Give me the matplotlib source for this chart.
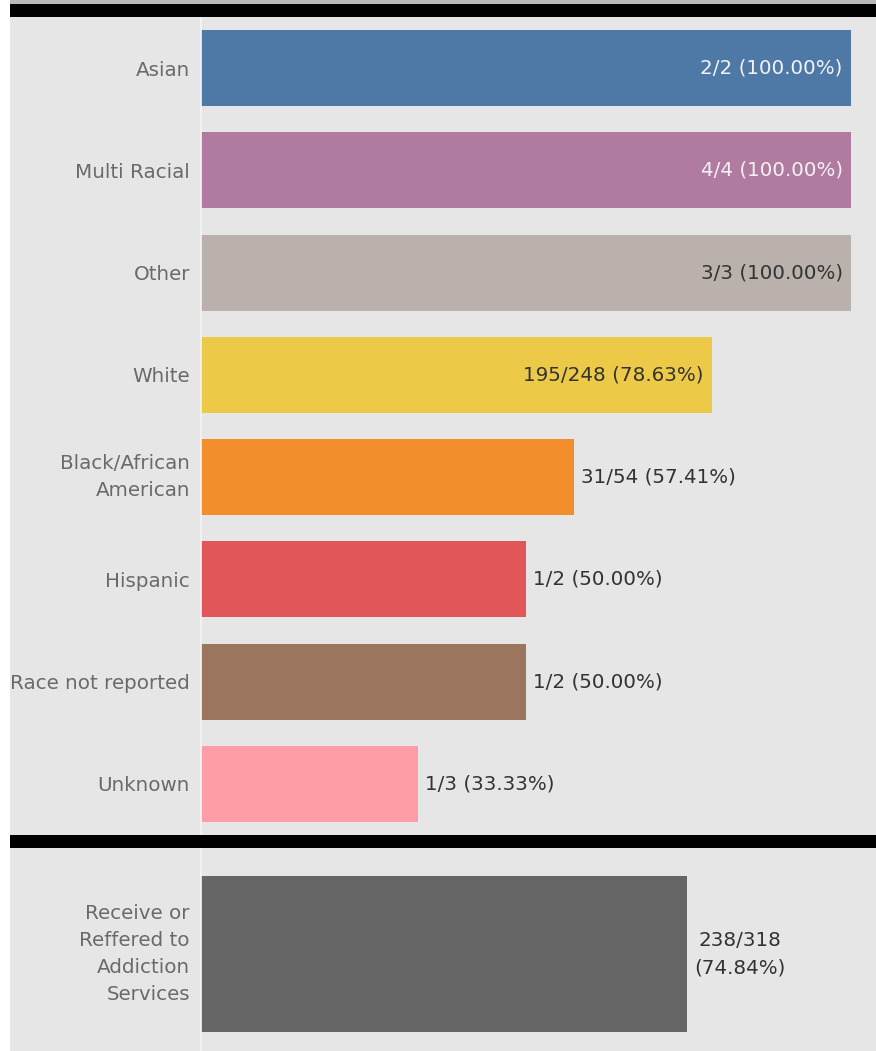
import matplotlib
matplotlib.use("Agg")
import matplotlib.pyplot as plt
from matplotlib.patches import Rectangle

categories = ["Asian", "Multi Racial", "Other", "White", "Black/African\nAmerican",
              "Hispanic", "Race not reported", "Unknown"]
numerators = [2, 4, 3, 195, 31, 1, 1, 1]
denominators = [2, 4, 3, 248, 54, 2, 2, 3]
colors = ["#4e79a7", "#b07aa1", "#bab0ac", "#edc948", "#f28e2b",
          "#e15759", "#9c755f", "#ff9da7"]
inside_label = [True, True, True, True, False, False, False, False]
label_colors = ["#f2f2f2", "#f2f2f2", "#333333", "#333333", "#333333",
                "#333333", "#333333", "#333333"]

total_category = "Receive or\nReffered to\nAddiction\nServices"
total_num = 238
total_den = 318
total_color = "#666666"

FONT = "DejaVu Sans"
FS = 14.3
LS = 1.55
W, H = 876, 1051
BG = "#e6e6e6"

fig = plt.figure(figsize=(W / 100, H / 100), dpi=100)
fig.patch.set_facecolor("white")

def px_rect(x0, y0, x1, y1, color, z=0):
    fig.add_artist(Rectangle((x0 / W, 1 - y1 / H), (x1 - x0) / W, (y1 - y0) / H,
                             transform=fig.transFigure, facecolor=color,
                             edgecolor="none", zorder=z))

# background panels
px_rect(10, 0, W, H, BG, z=-10)
px_rect(10, 0, W, 4, "#b8b8b8", z=-9)
px_rect(10, 4, W, 17, "black", z=5)
px_rect(10, 835, W, 848, "black", z=5)

x_left = 201
scale = 650.0  # px for ratio 1.0
xmax = (W - x_left) / scale

def make_ax(y_top, y_bot):
    ax = fig.add_axes([x_left / W, 1 - y_bot / H, (W - x_left) / W, (y_bot - y_top) / H])
    ax.set_facecolor("none")
    for s in ["top", "right", "bottom"]:
        ax.spines[s].set_visible(False)
    ax.spines["left"].set_color("#f5f5f5")
    ax.spines["left"].set_linewidth(1.2)
    ax.set_xlim(0, xmax)
    ax.set_xticks([])
    ax.tick_params(axis="y", length=0, pad=8)
    return ax

def style_ticklabels(axis):
    for t in axis.get_yticklabels():
        t.set_linespacing(LS)
        if "\n" in t.get_text():
            t.set_verticalalignment("center")

# top panel
ax = make_ax(17, 835)
ratios = [n / d for n, d in zip(numerators, denominators)]
ypos = list(range(len(categories)))
ax.barh(ypos, ratios, height=0.745, color=colors, zorder=2)
ax.set_ylim(len(categories) - 0.5, -0.5)
ax.set_yticks(ypos)
ax.set_yticklabels(categories, fontfamily=FONT, fontsize=FS, color="#6a6a6a", ha="right")
style_ticklabels(ax)
for y, r, n, d, ins, lc in zip(ypos, ratios, numerators, denominators, inside_label, label_colors):
    txt = f"{n}/{d} ({r * 100:.2f}%)"
    if ins:
        ax.annotate(txt, (r, y), xytext=(-6, 0), textcoords="offset points",
                    ha="right", va="center", fontfamily=FONT, fontsize=FS, color=lc)
    else:
        ax.annotate(txt, (r, y), xytext=(5, 0), textcoords="offset points",
                    ha="left", va="center", fontfamily=FONT, fontsize=FS, color=lc)

# bottom panel
ax2 = make_ax(848, 1060)
tr = total_num / total_den
ax2.barh([0], [tr], height=0.736, color=total_color, zorder=2)
ax2.set_ylim(0.5, -0.5)
ax2.set_yticks([0])
ax2.set_yticklabels([total_category], fontfamily=FONT, fontsize=FS, color="#6a6a6a", ha="right")
style_ticklabels(ax2)
ax2.annotate(f"{total_num}/{total_den}\n({tr * 100:.2f}%)", (tr, 0), xytext=(5, 0),
             textcoords="offset points", ha="left", va="center", multialignment="center",
             fontfamily=FONT, fontsize=FS, color="#333333", linespacing=LS)

fig.savefig("out.png", dpi=100, facecolor=fig.get_facecolor())
